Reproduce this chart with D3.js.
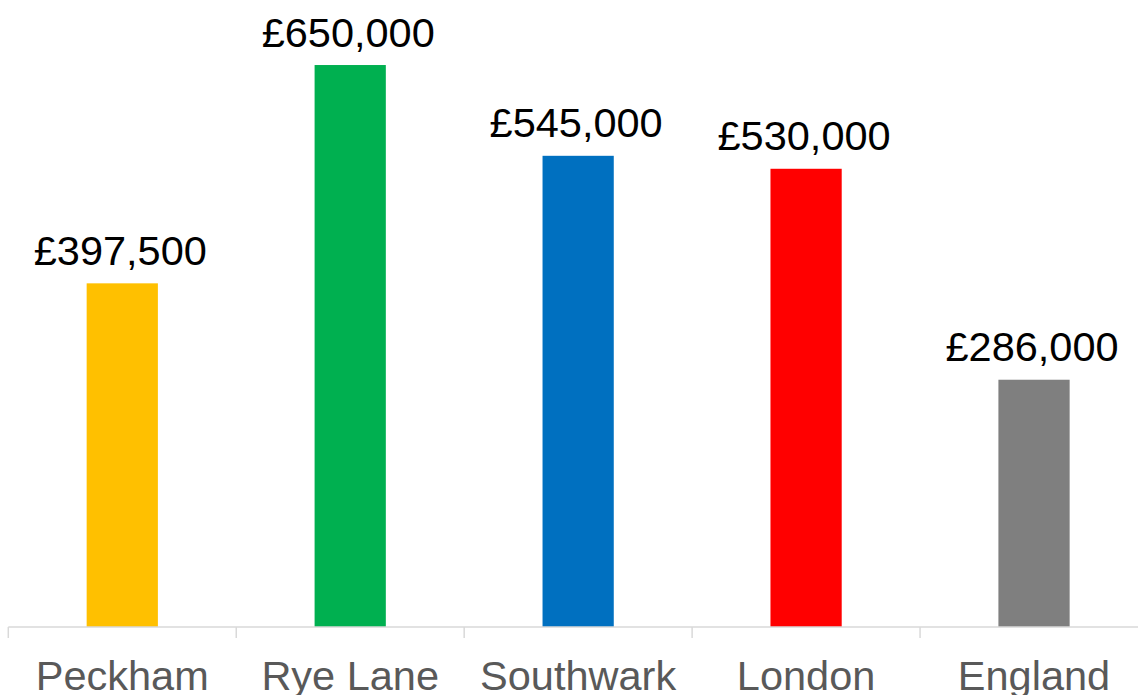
<!DOCTYPE html>
<html>
<head>
<meta charset="utf-8">
<script src="https://cdn.jsdelivr.net/npm/d3@7"></script>
<style>
  html, body { margin: 0; padding: 0; background: #fff; }
  svg { display: block; }
</style>
</head>
<body>
<svg id="chart" width="1138" height="695"></svg>
<script>
// Median house prices by area
const categories = ["Peckham", "Rye Lane", "Southwark", "London", "England"];
const values = [397500, 650000, 545000, 530000, 286000];
const barColors = ["#FFC000", "#00B050", "#0070C0", "#FF0000", "#7F7F7F"];

const width = 1138, height = 695;
const svg = d3.select("#chart");

const x = d3.scaleBand()
  .domain(categories)
  .range([8.3, 1148])
  .padding(0);

const y = d3.scaleLinear()
  .domain([0, 700000])
  .range([627, 21.8]);

const barFrac = 0.3125;
const barW = x.bandwidth() * barFrac;

// Bars
svg.append("g")
  .selectAll("rect")
  .data(categories)
  .join("rect")
  .attr("x", (d) => x(d) + (x.bandwidth() - barW) / 2)
  .attr("y", (d, i) => y(values[i]))
  .attr("width", barW)
  .attr("height", (d, i) => y(0) - y(values[i]))
  .attr("fill", (d, i) => barColors[i]);

// Category axis with boundary ticks between bands
const axisG = svg.append("g");
axisG.append("line")
  .attr("x1", x.range()[0])
  .attr("x2", width)
  .attr("y1", y(0))
  .attr("y2", y(0))
  .attr("stroke", "#D9D9D9")
  .attr("stroke-width", 1.5);

axisG.selectAll("line.tick")
  .data(categories)
  .join("line")
  .attr("class", "tick")
  .attr("x1", (d) => x(d))
  .attr("x2", (d) => x(d))
  .attr("y1", y(0))
  .attr("y2", y(0) + 11)
  .attr("stroke", "#D9D9D9")
  .attr("stroke-width", 1.5);

axisG.selectAll("text")
  .data(categories)
  .join("text")
  .attr("x", (d) => x(d) + x.bandwidth() / 2)
  .attr("y", 690)
  .attr("text-anchor", "middle")
  .attr("font-family", "Liberation Sans, Arial, sans-serif")
  .attr("font-size", 41.5)
  .attr("fill", "#595959")
  .text((d) => d);

// Value labels
const fmt = (v) => "£" + d3.format(",")(v);
svg.append("g")
  .selectAll("text")
  .data(categories)
  .join("text")
  .attr("x", (d) => x(d) + x.bandwidth() / 2 - 2)
  .attr("y", (d, i) => y(values[i]) - 18.5)
  .attr("text-anchor", "middle")
  .attr("font-family", "Liberation Sans, Arial, sans-serif")
  .attr("font-size", 41.5)
  .attr("fill", "#000")
  .text((d, i) => fmt(values[i]));
</script>
</body>
</html>
